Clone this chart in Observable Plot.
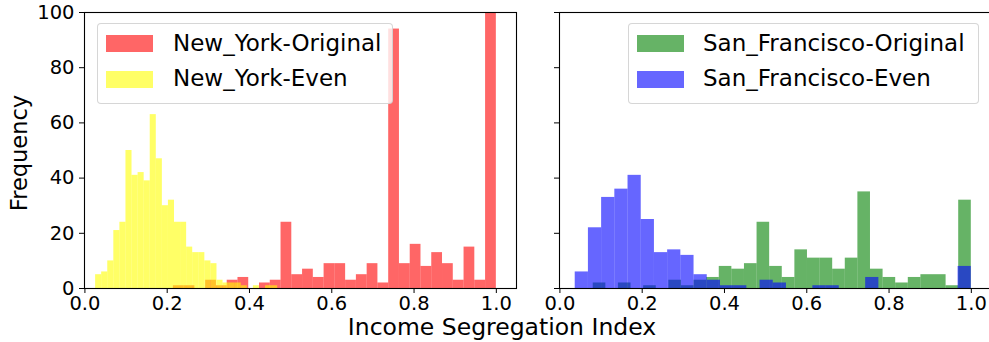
<!DOCTYPE html>
<html><head><meta charset="utf-8">
<script src="https://cdn.jsdelivr.net/npm/d3@7"></script>
<script src="https://cdn.jsdelivr.net/npm/@observablehq/plot@0.6"></script>
<style>
body{margin:0;background:#fff;font-family:"DejaVu Sans",sans-serif;}
#fig{position:relative;width:989px;height:342px;overflow:hidden;background:#fff;}
#fig svg{position:absolute;top:0;overflow:visible;}
.lab{position:absolute;font-size:23px;line-height:23px;white-space:nowrap;color:#000;}
.legend{position:absolute;background:rgba(255,255,255,0.8);border:1px solid rgba(204,204,204,0.8);border-radius:4px;box-sizing:border-box;}
.patch{position:absolute;width:47px;height:17px;}
</style></head><body><div id="fig"></div>
<script>
// ---- data (histogram bin counts) ----
const nyOriginalStart = 0.215, nyOriginalWidth = 0.026167;
const nyOriginal = [1,1,0,3,1,3,4,0,2,3,24,5,7,4,9,9,3,5,9,2,94,9,16,8,13,9,3,15,3,100];
const nyEvenStart = 0.026, nyEvenWidth = 0.01475;
const nyEven = [5,6,10,21,24,50,41,42,39,63,47,30,32,24,24,15,13,13,10,9,3,2,2,2,1,0,1,0,1,1];
const sfOriginalStart = 0.081, sfOriginalWidth = 0.03063;
const sfOriginal = [2,0,2,0,1,0,3,1,3,4,8,7,9,24,8,4,14,11,11,7,11,35,7,4,2,4,5,5,1,32];
const sfEvenStart = 0.0372, sfEvenWidth = 0.03209;
const sfEven = [6,22,33,36,41,25,13,14,12,5,3,1,1,0,3,2,0,0,1,1,0,0,4,0,0,0,0,0,0,8];
const xTicks = [0, 0.2, 0.4, 0.6, 0.8, 1.0];
const yTicks = [0, 20, 40, 60, 80, 100];
const seriesLabels = ["New_York-Original","New_York-Even","San_Francisco-Original","San_Francisco-Even"];
const seriesColors = ["red","yellow","green","blue"];

function bins(counts, start, width){
  return counts.map((c,i)=>({x1:start+i*width, x2:start+(i+1)*width, y0:0, y:c}));
}
const fig = document.getElementById("fig");
const fmt = d3.format(".1f");

function panel(series, opts){
  const marks = series.map(s => Plot.rect(s.data, {x1:"x1", x2:"x2", y1:"y0", y2:"y", fill:s.color, fillOpacity:0.6}));
  return Plot.plot({
    width: opts.width, height: 342,
    marginLeft: opts.ml, marginRight: opts.mr, marginTop: 12, marginBottom: 54,
    x: {domain:[-0.001, 1.049]},
    y: {domain:[0, 100]},
    clip: true,
    style: {fontFamily:"DejaVu Sans", fontSize:"19.5px", color:"#000", background:"transparent"},
    marks: [
      ...marks,
      Plot.frame({stroke:"#000", strokeWidth:1.1}),
      Plot.axisX({ticks:xTicks, tickFormat:fmt, tickSize:5, tickPadding:3, label:null, fontSize:19.5, stroke:"#000"}),
      Plot.axisY({ticks:yTicks, tickFormat: opts.ylabels ? d3.format("d") : () => "", tickSize:5, tickPadding:5, label:null, fontSize:19.5, stroke:"#000"})
    ]
  });
}

const left = panel([
  {data:bins(nyOriginal,nyOriginalStart,nyOriginalWidth), color:seriesColors[0]},
  {data:bins(nyEven,nyEvenStart,nyEvenWidth), color:seriesColors[1]}
], {width:520, ml:84, mr:4, ylabels:true});
left.style.left = "0px";
fig.appendChild(left);

const right = panel([
  {data:bins(sfOriginal,sfOriginalStart,sfOriginalWidth), color:seriesColors[2]},
  {data:bins(sfEven,sfEvenStart,sfEvenWidth), color:seriesColors[3]}
], {width:451, ml:19, mr:0, ylabels:false});
right.style.left = "540px";
fig.appendChild(right);

function addDiv(cls, css, text){
  const d = document.createElement("div");
  d.className = cls;
  Object.assign(d.style, css);
  if (text !== undefined) d.textContent = text;
  fig.appendChild(d);
  return d;
}
function legend(box, patchLeft, textLeft, labels, colors){
  addDiv("legend", box);
  labels.forEach((l,i)=>{
    addDiv("patch", {left:patchLeft+"px", top:(35+36*i)+"px", background:colors[i], opacity:0.6});
    addDiv("lab", {left:textLeft+"px", top:(32.3+34.5*i)+"px"}, l);
  });
}
legend({left:"97px", top:"23px", width:"296px", height:"81px"}, 106, 173, seriesLabels.slice(0,2), seriesColors.slice(0,2));
legend({left:"628px", top:"23px", width:"351px", height:"81px"}, 637, 703, seriesLabels.slice(2,4), seriesColors.slice(2,4));

addDiv("lab", {left:"502px", top:"318px", fontSize:"23.5px", lineHeight:"19px", transform:"translateX(-50%)"}, "Income Segregation Index");
addDiv("lab", {left:"19px", top:"153px", fontSize:"22.5px", transform:"translate(-50%,-50%) rotate(-90deg)"}, "Frequency");
</script></body></html>
